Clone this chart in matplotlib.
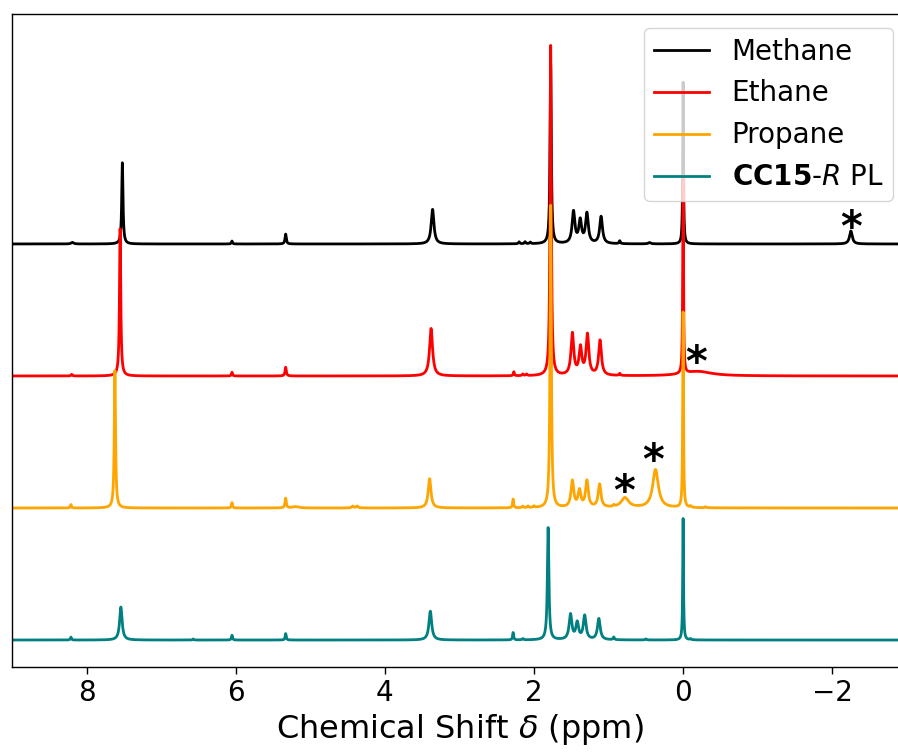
import numpy as np
import matplotlib
matplotlib.use("Agg")
import matplotlib.pyplot as plt

# Chemical shift axis (ppm)
ppm = np.linspace(9.2, -3.2, 24801)

labels = ["Methane", "Ethane", "Propane", r"$\mathbf{CC15}$-$\mathit{R}$ PL"]
colors = ["black", "red", "orange", "teal"]
offsets = [3.0, 2.0, 1.0, 0.0]

# Peak tables: centre (ppm), height, half width at half maximum (ppm)
methane_pos = [8.19, 7.52, 6.05, 5.33, 3.36, 2.20, 2.12, 2.05, 1.776, 1.47, 1.38, 1.29, 1.10, 0.85, 0.45, 0.0, -2.25]
methane_hgt = [0.012, 0.615, 0.022, 0.075, 0.262, 0.015, 0.015, 0.012, 1.36, 0.24, 0.17, 0.225, 0.205, 0.022, 0.010, 1.225, 0.098]
methane_wid = [0.02, 0.010, 0.008, 0.010, 0.022, 0.01, 0.01, 0.01, 0.010, 0.022, 0.022, 0.022, 0.022, 0.01, 0.02, 0.006, 0.022]

ethane_pos = [8.20, 7.55, 6.05, 5.33, 3.38, 2.27, 2.15, 2.10, 1.776, 1.485, 1.377, 1.283, 1.114, 0.85, 0.0, -0.20]
ethane_hgt = [0.012, 1.115, 0.028, 0.066, 0.36, 0.03, 0.012, 0.012, 2.50, 0.315, 0.205, 0.305, 0.265, 0.015, 1.50, 0.034]
ethane_wid = [0.01, 0.010, 0.008, 0.010, 0.024, 0.008, 0.01, 0.01, 0.010, 0.022, 0.022, 0.022, 0.022, 0.01, 0.006, 0.22]

propane_pos = [8.21, 7.62, 6.05, 5.33, 5.20, 4.43, 4.37, 3.40, 2.28, 2.15, 2.08, 2.00, 1.776, 1.485, 1.39, 1.29, 1.12, 0.93, 0.78, 0.37, 0.0, -0.10, -0.30]
propane_hgt = [0.026, 1.04, 0.041, 0.074, 0.010, 0.014, 0.014, 0.222, 0.066, 0.012, 0.012, 0.012, 2.29, 0.20, 0.125, 0.20, 0.175, 0.012, 0.075, 0.29, 1.48, 0.010, 0.008]
propane_wid = [0.008, 0.010, 0.008, 0.010, 0.05, 0.015, 0.015, 0.022, 0.008, 0.01, 0.01, 0.01, 0.010, 0.022, 0.022, 0.022, 0.022, 0.01, 0.06, 0.045, 0.006, 0.01, 0.01]

cc15_pos = [8.21, 7.54, 6.57, 6.05, 5.33, 3.39, 2.28, 2.15, 1.81, 1.51, 1.42, 1.32, 1.13, 0.93, 0.50, 0.0, -0.10]
cc15_hgt = [0.022, 0.25, 0.008, 0.036, 0.049, 0.218, 0.056, 0.010, 0.85, 0.19, 0.125, 0.18, 0.16, 0.020, 0.008, 0.92, 0.008]
cc15_wid = [0.008, 0.020, 0.008, 0.008, 0.008, 0.022, 0.008, 0.01, 0.012, 0.022, 0.022, 0.022, 0.022, 0.01, 0.01, 0.006, 0.01]

peak_tables = [
    (methane_pos, methane_hgt, methane_wid),
    (ethane_pos, ethane_hgt, ethane_wid),
    (propane_pos, propane_hgt, propane_wid),
    (cc15_pos, cc15_hgt, cc15_wid),
]

# Impurity markers: position (ppm) and vertical placement for each asterisk
star_ppm = [-2.25, -0.18, 0.79, 0.40]
star_y = [3.11, 2.09, 1.11, 1.345]


def lorentzian_sum(x, pos, hgt, wid):
    y = np.zeros_like(x)
    for p, h, w in zip(pos, hgt, wid):
        y += h / (1.0 + ((x - p) / w) ** 2)
    return y


fig = plt.figure(figsize=(8.98, 7.54), dpi=100)
ax = fig.add_axes([12 / 898, 87.3 / 754, 894.8 / 898, 652.7 / 754])

for (pos, hgt, wid), off, col, lab in zip(peak_tables, offsets, colors, labels):
    ax.plot(ppm, lorentzian_sum(ppm, pos, hgt, wid) + off, color=col, lw=2, label=lab)

for sx, sy in zip(star_ppm, star_y):
    ax.text(sx, sy, "*", fontsize=30, fontweight="bold", ha="center", va="center", color="black")

ax.set_xlim(9, -3)
ax.set_ylim(-0.202, 4.742)
ax.set_yticks([])
ax.tick_params(axis="x", labelsize=20, length=5, width=1)
for s in ax.spines.values():
    s.set_linewidth(1)
ax.set_xlabel(r"Chemical Shift $\delta$ (ppm)", fontsize=23)
ax.legend(loc="upper right", fontsize=20, borderpad=0.35)

fig.savefig("out.png", dpi=100)
